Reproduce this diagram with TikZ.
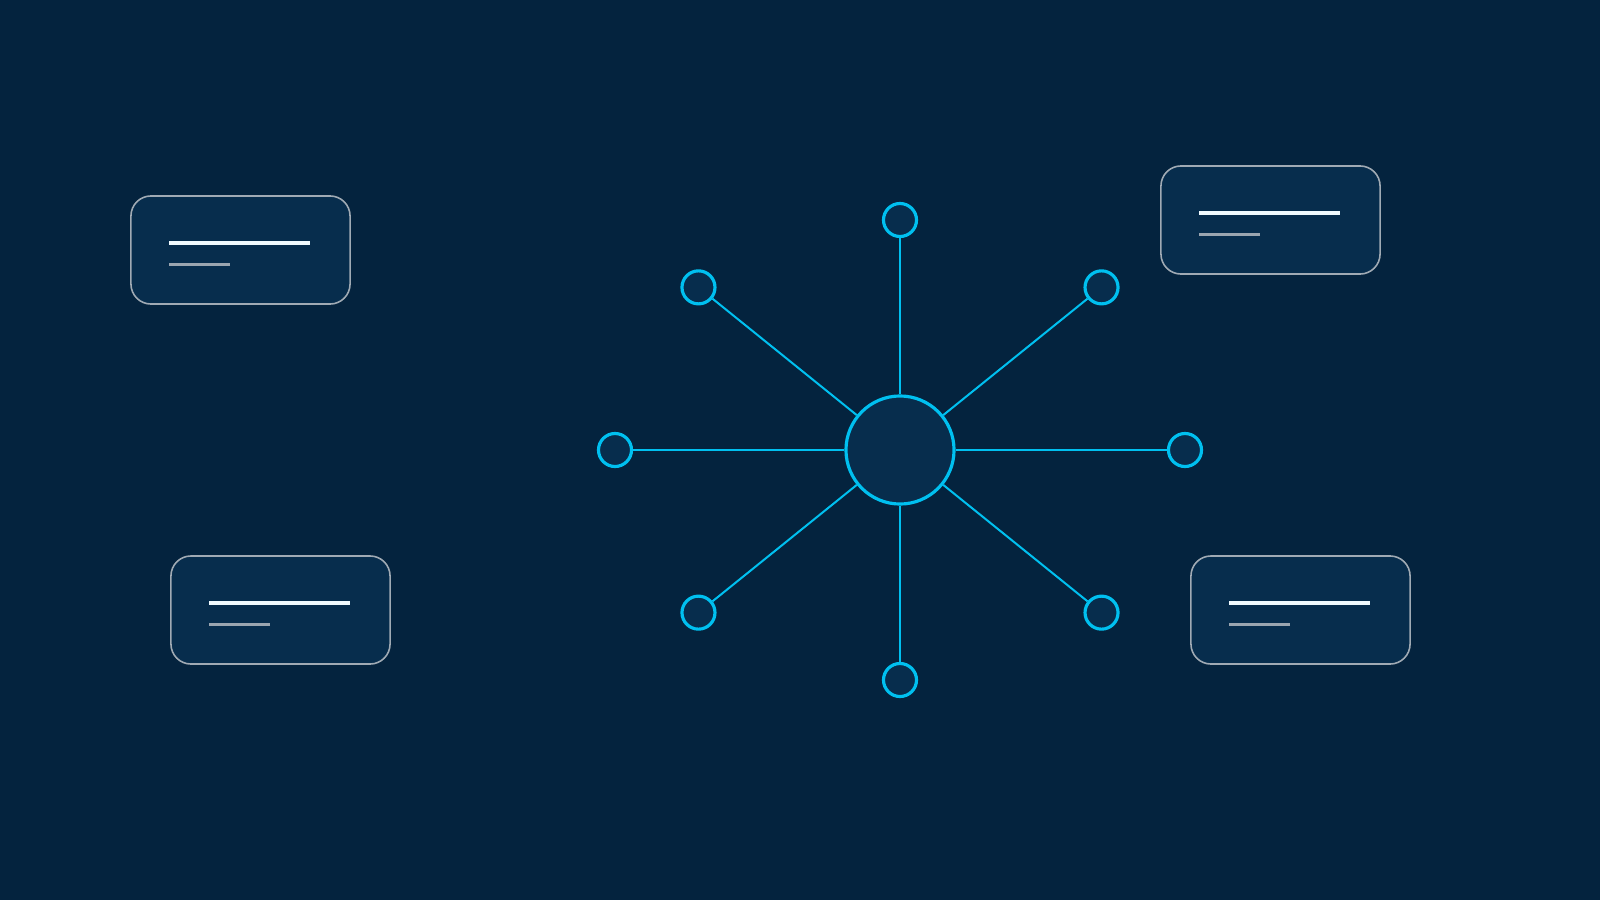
\documentclass[tikz,border=0pt]{standalone}
\usepackage{tikz}
\usepackage{xcolor}
\usetikzlibrary{positioning}

\definecolor{bgnavy}{RGB}{4,35,62}
\definecolor{cardfill}{RGB}{7,45,77}
\definecolor{cardedge}{RGB}{160,170,180}
\definecolor{hubcyan}{RGB}{0,192,240}
\definecolor{barwhite}{RGB}{240,250,255}
\definecolor{bargray}{RGB}{154,165,176}

\begin{document}
\begin{tikzpicture}[
            x=0.01cm, y=-0.01cm,
            declare function={
                cx = 900;
                cy = 450;
                rx = 285;
                ry = 230;
            },
            hub/.style={circle, draw=hubcyan, fill=cardfill, line width=0.9pt, minimum size=1.08cm, inner sep=0pt},
            sat/.style={circle, draw=hubcyan, fill=cardfill, line width=0.9pt, minimum size=0.33cm, inner sep=0pt},
            link/.style={hubcyan, line width=0.57pt},
            card/.style={draw=cardedge, fill=cardfill, rounded corners=0.2cm, line width=0.45pt, minimum width=2.19cm, minimum height=1.08cm, inner sep=0pt},
            barhi/.style={barwhite, line width=1.14pt},
            barlo/.style={bargray, line width=0.85pt}
        ]

            \fill[bgnavy] (0,0) rectangle (1600,900);
            \useasboundingbox (0,0) rectangle (1600,900);

            \node[hub] (hub) at (cx, cy) {};

            \foreach \ang/\name in {0/e, 45/ne, 90/n, 135/nw, 180/w, 225/sw, 270/s, 315/se} {
                \node[sat] (sat\name) at ({cx + rx*cos(\ang)}, {cy - ry*sin(\ang)}) {};
                \draw[link] (hub) -- (sat\name);
            }

            % cards with a title bar and a short sub bar
            \foreach \px/\py/\name in {240.5/250/tl, 1270.5/220/tr, 280.5/610/bl, 1300.5/610/br} {
                \node[card] (card\name) at (\px, \py) {};
                \draw[barhi] ([xshift=0.39cm, yshift=0.07cm] card\name.west) -- ++(141, 0);
                \draw[barlo] ([xshift=0.39cm, yshift=-0.14cm] card\name.west) -- ++(61, 0);
            }
        \end{tikzpicture}
\end{document}
